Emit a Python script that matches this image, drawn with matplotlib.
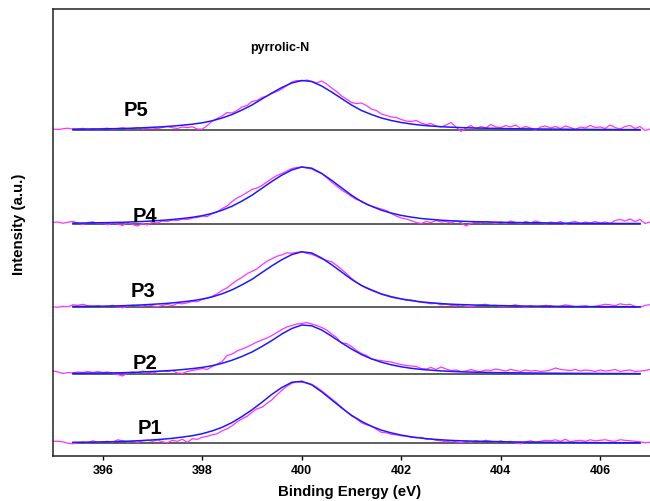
import numpy as np
import matplotlib
matplotlib.use('Agg')
import matplotlib.pyplot as plt

plt.rcParams['font.family'] = ['Liberation Sans', 'DejaVu Sans']
plt.rcParams['font.weight'] = 'bold'

# binding energy grids (eV)
energia = np.round(np.arange(395.0, 407.05, 0.1), 1)
energia_fit = np.round(np.arange(395.4, 406.85, 0.2), 1)

nomes = ['P1', 'P2', 'P3', 'P4', 'P5']
deslocamentos = [12.7, 82.0, 148.7, 232.0, 326.0]

# measured spectra (intensity above baseline, a.u.)
p1_dados = [2.0, 2.0, 1.5, 0.0, -0.5, 0.5, 1.0, 0.5, 2.5, 1.0,
            1.5, 2.0, 1.0, 3.5, 2.5, 1.5, 2.0, 1.0, 2.5, 3.0,
            2.0, 3.5, 1.5, 0.5, 3.0, 2.0, 4.0, 1.0, 4.5, 4.0,
            6.0, 7.0, 8.5, 9.5, 12.5, 14.5, 17.5, 21.5, 24.5, 27.0,
            31.0, 34.5, 36.0, 40.0, 43.5, 48.5, 53.0, 57.0, 60.0, 61.5,
            61.0, 60.5, 59.0, 56.0, 52.5, 48.5, 44.5, 40.5, 36.0, 31.5,
            27.5, 24.5, 20.5, 18.5, 17.5, 14.0, 11.0, 10.5, 9.0, 8.5,
            7.5, 7.0, 6.0, 5.5, 6.0, 4.0, 4.5, 3.0, 2.5, 1.5,
            2.5, 1.5, 0.5, 2.0, 1.0, 2.5, 1.5, 3.0, 2.0, 1.0,
            2.5, 1.0, 2.0, 0.5, -0.5, 1.5, 2.5, 1.0, 2.0, 3.0,
            2.5, 3.5, 2.0, 4.0, 1.5, 2.5, 3.0, 2.0, 3.5, 2.5,
            3.0, 3.5, 2.5, 2.0, 3.5, 3.0, 2.5, 2.0, 1.5, 0.5,
            1.0]

p2_dados = [3.0, 2.0, 0.5, 1.5, 1.0, 2.0, 1.5, 2.5, 1.5, 2.5,
            1.5, 2.0, 0.5, -0.5, -2.0, 1.0, 2.0, 1.0, 3.0, 2.0,
            1.0, 2.5, 3.0, 2.5, 3.5, 1.0, 0.5, 2.5, 3.5, 4.5,
            5.5, 4.5, 7.5, 10.0, 12.5, 18.5, 20.0, 23.0, 25.0, 27.0,
            29.5, 32.0, 34.0, 36.0, 38.5, 41.5, 44.5, 47.0, 48.5, 50.0,
            50.5, 51.5, 50.0, 48.5, 46.5, 44.0, 40.0, 36.5, 31.0, 30.5,
            27.5, 23.5, 20.5, 18.5, 15.0, 14.0, 13.5, 12.5, 12.0, 10.5,
            9.5, 8.5, 8.0, 7.5, 5.5, 5.0, 6.5, 4.5, 7.0, 5.0,
            3.5, 4.0, 2.5, 3.0, 4.5, 3.0, 2.5, 4.0, 3.5, 5.0,
            4.0, 3.0, 4.5, 3.5, 2.5, 4.0, 3.0, 3.5, 2.5, 3.0,
            4.0, 6.0, 4.5, 4.0, 3.5, 4.5, 3.0, 4.0, 3.5, 2.5,
            4.0, 3.0, 3.5, 4.5, 2.5, 3.5, 4.0, 2.5, 3.0, 3.5,
            4.5]

p3_dados = [0.5, 0.0, 1.0, 0.5, 2.5, 2.0, 3.0, 1.5, 1.0, 1.5,
            0.5, 1.0, 2.0, 0.5, -0.5, 1.0, 2.0, 1.5, 1.0, 2.5,
            1.5, 0.5, 2.0, 3.0, 1.5, 4.0, 3.5, 4.5, 6.0, 5.5,
            8.0, 9.0, 11.0, 13.5, 17.0, 19.5, 23.5, 27.0, 30.0, 33.5,
            36.0, 38.5, 42.5, 46.0, 48.5, 51.0, 52.5, 54.5, 54.0, 55.0,
            55.5, 54.0, 53.0, 51.0, 48.5, 47.0, 45.5, 42.0, 38.0, 33.5,
            29.0, 25.0, 22.0, 19.0, 17.0, 15.0, 13.0, 11.5, 10.0, 9.0,
            8.5, 7.0, 7.5, 6.0, 5.0, 4.5, 3.5, 4.0, 2.5, 3.0,
            2.0, 1.5, 2.5, 1.0, 0.5, 1.5, 2.5, 3.0, 1.5, 2.0,
            1.0, 0.5, 1.5, 2.5, 1.0, 0.0, 1.5, 0.5, 1.0, 2.0,
            1.5, 0.5, 1.0, 2.5, 1.5, 0.5, 1.0, 1.5, 0.5, 1.0,
            2.0, 3.0, 2.5, 1.5, 3.5, 2.5, 3.0, 1.0, 0.0, 2.0,
            2.5]

p4_dados = [1.5, 2.0, 0.8, 1.8, 2.5, 1.0, -0.5, 1.5, 2.2, 0.5,
            1.0, -0.8, 1.2, 0.0, -1.5, 1.5, -0.5, -2.0, 0.5, -1.0,
            2.0, 1.0, 3.0, 2.5, 4.0, 3.5, 5.0, 4.5, 6.0, 6.5,
            8.0, 7.5, 10.5, 12.0, 15.5, 18.0, 22.5, 26.0, 28.5, 31.5,
            34.5, 36.0, 38.5, 42.0, 45.5, 48.5, 50.5, 53.0, 55.5, 56.5,
            57.0, 56.0, 55.0, 52.5, 50.5, 46.5, 42.0, 38.0, 34.0, 31.0,
            27.5, 24.5, 23.0, 19.5, 18.0, 16.5, 15.0, 13.5, 10.5, 8.0,
            6.0, 5.0, 3.5, 1.5, 0.5, 2.5, 1.5, 3.5, 2.0, 2.5,
            1.0, 3.0, 1.5, -2.0, 0.5, 2.0, 1.0, 2.5, 1.5, 0.5,
            2.0, 0.5, 3.0, 1.5, 0.5, 2.5, 1.0, 3.0, 1.5, 0.0,
            2.0, 1.0, 2.5, -0.5, 1.5, 2.5, 0.5, 2.0, 1.0, 2.5,
            1.0, 2.0, 0.5, 3.5, 4.5, 3.0, 5.0, 2.5, 4.5, 0.5,
            2.0]

p5_dados = [1.0, 0.5, 1.2, 1.8, 0.8, 1.0, 1.6, 0.6, 1.2, 0.9,
            1.4, 1.8, 0.8, 1.5, 2.2, 1.2, 1.6, 2.4, 1.0, 1.8,
            2.0, 1.4, 2.6, 3.6, 2.2, 1.6, 3.0, 2.4, 3.2, 1.0,
            0.8, 4.5, 9.0, 11.5, 14.0, 17.5, 17.0, 19.5, 23.0, 24.5,
            28.5, 29.5, 32.5, 34.0, 36.5, 38.5, 41.0, 44.5, 48.0, 49.5,
            49.0, 50.0, 48.5, 47.0, 49.0, 46.0, 42.0, 38.5, 34.0, 31.0,
            27.5, 26.5, 27.0, 24.5, 21.0, 19.5, 16.0, 14.5, 13.0, 12.5,
            10.5, 9.0, 8.5, 9.5, 7.0, 5.5, 6.5, 4.0, 3.0, 5.0,
            7.5, 3.0, -1.5, 2.0, 4.5, 1.0, 3.5, 2.0, 5.5, 3.0,
            2.5, 4.5, 3.0, 5.0, 1.5, 3.5, 2.0, -0.5, 3.0, 4.0,
            2.0, 3.5, 1.5, 4.0, 2.5, 0.5, 3.0, 2.0, 4.5, 2.5,
            3.0, 1.5, 5.0, 2.5, 1.0, 3.5, 4.5, 1.5, 3.5, -0.5,
            1.0]

# fitted pyrrolic-N components
p1_fit = [1.0, 1.1, 1.2,
          1.4, 1.6, 1.9, 2.3, 2.8,
          3.4, 4.1, 5.0, 6.2, 7.6,
          9.6, 12.4, 16.0, 20.8, 26.8,
          33.5, 41.0, 49.0, 55.8, 61.0,
          62.0, 58.5, 51.5, 43.5, 35.5,
          28.0, 22.0, 17.0, 13.2, 10.4,
          8.2, 6.5, 5.2, 4.2, 3.5,
          2.9, 2.5, 2.2, 2.0, 1.8,
          1.6, 1.4, 1.3, 1.2, 1.1,
          1.0, 0.9, 0.8, 0.8, 0.7,
          0.6, 0.6, 0.5, 0.5, 0.5]

p2_fit = [0.7, 0.8, 0.9,
          1.0, 1.1, 1.3, 1.6, 2.0,
          2.5, 3.0, 3.6, 4.4, 5.4,
          6.6, 8.3, 10.7, 13.8, 17.6,
          22.0, 27.5, 33.5, 40.0, 45.5,
          49.0, 48.2, 44.0, 37.8, 31.2,
          25.0, 19.5, 15.2, 11.8, 9.2,
          7.2, 5.7, 4.6, 3.8, 3.1,
          2.6, 2.2, 1.9, 1.7, 1.5,
          1.3, 1.2, 1.1, 1.0, 0.9,
          0.8, 0.7, 0.7, 0.6, 0.6,
          0.5, 0.5, 0.5, 0.4, 0.4]

p3_fit = [0.8, 0.9, 1.0,
          1.1, 1.3, 1.6, 2.0, 2.4,
          3.0, 3.6, 4.4, 5.4, 6.6,
          8.2, 10.4, 13.5, 17.5, 22.5,
          28.0, 34.8, 41.5, 47.6, 52.7,
          55.5, 54.3, 49.3, 42.6, 35.3,
          28.0, 21.8, 17.4, 13.4, 10.6,
          8.4, 6.7, 5.4, 4.5, 3.7,
          3.1, 2.7, 2.4, 2.1, 1.9,
          1.7, 1.5, 1.3, 1.2, 1.1,
          1.0, 0.9, 0.8, 0.7, 0.7,
          0.6, 0.6, 0.5, 0.5, 0.5]

p4_fit = [0.9, 1.0, 1.2,
          1.3, 1.5, 1.7, 2.1, 2.5,
          3.1, 3.7, 4.5, 5.5, 6.7,
          8.3, 10.6, 13.8, 17.8, 23.0,
          28.8, 35.7, 42.6, 48.9, 54.0,
          57.0, 55.8, 50.6, 43.7, 36.2,
          28.8, 22.4, 17.8, 13.8, 10.9,
          8.6, 6.9, 5.5, 4.6, 3.8,
          3.2, 2.8, 2.4, 2.2, 2.0,
          1.7, 1.5, 1.4, 1.3, 1.2,
          1.0, 0.9, 0.8, 0.7, 0.7,
          0.6, 0.6, 0.5, 0.5, 0.5]

p5_fit = [0.8, 0.9, 1.0,
          1.1, 1.3, 1.5, 1.8, 2.2,
          2.7, 3.2, 3.9, 4.8, 5.8,
          7.2, 9.2, 12.0, 15.5, 20.0,
          25.0, 31.0, 37.0, 42.5, 47.0,
          49.5, 48.5, 44.0, 38.0, 31.5,
          25.0, 19.5, 15.5, 12.0, 9.5,
          7.5, 6.0, 4.8, 4.0, 3.3,
          2.8, 2.4, 2.1, 1.9, 1.7,
          1.5, 1.3, 1.2, 1.1, 1.0,
          0.9, 0.8, 0.7, 0.6, 0.6,
          0.5, 0.5, 0.4, 0.4, 0.4]

dados = [p1_dados, p2_dados, p3_dados, p4_dados, p5_dados]
ajustes = [p1_fit, p2_fit, p3_fit, p4_fit, p5_fit]

# label anchors (eV, height above baseline)
rotulo_x = [396.95, 396.85, 396.8, 396.85, 396.67]
rotulo_y = [16.0, 11.0, 16.5, 8.0, 21.0]

fig = plt.figure(figsize=(6.5, 5.02), dpi=100)
ax = fig.add_axes([53 / 650, 45 / 502, 1 - 53 / 650, 447 / 502])

for nome, d, f, off, lx, ly in zip(nomes, dados, ajustes, deslocamentos, rotulo_x, rotulo_y):
    ax.plot([energia_fit[0], energia_fit[-1]], [off, off], color='#333333', lw=1.1, zorder=1)
    ax.plot(energia, np.array(d) + off, color='#ff33ff', lw=0.9, zorder=2)
    ax.plot(energia_fit, np.array(f) + off, color='#1a1aff', lw=1.1, zorder=3)
    ax.text(lx, off + ly, nome, fontsize=14.5, fontweight='bold', ha='center', va='center')

ax.text(399.55, 409, 'pyrrolic-N', fontsize=9, fontweight='bold', ha='center', va='center')

ax.set_xlim(395, 407)
ax.set_ylim(0, 447)
ax.set_xticks([396, 398, 400, 402, 404, 406])
ax.set_yticks([])
ax.tick_params(axis='x', direction='out', length=3, width=1, pad=3, labelsize=9)
for t in ax.get_xticklabels():
    t.set_fontweight('bold')
ax.spines['right'].set_visible(False)
for s in ['left', 'top', 'bottom']:
    ax.spines[s].set_linewidth(1.1)
    ax.spines[s].set_color('#222222')

fig.text(350 / 650, 1 - 492 / 502, 'Binding Energy (eV)', fontsize=10.8, fontweight='bold',
         ha='center', va='center')
fig.text(19 / 650, 1 - 224 / 502, 'Intensity (a.u.)', fontsize=10.8, fontweight='bold',
         ha='center', va='center', rotation=90)

fig.savefig('out.png', dpi=100)
